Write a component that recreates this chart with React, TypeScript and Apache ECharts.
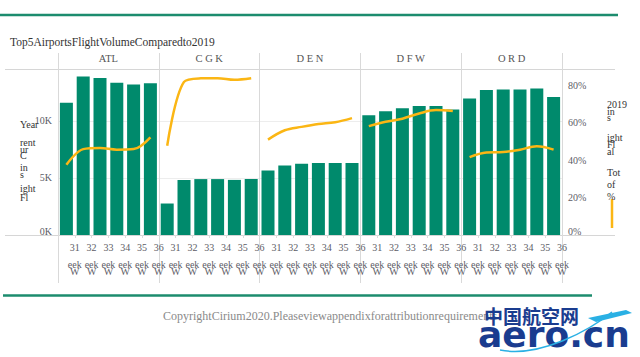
import React, { useEffect, useRef } from "react";
import * as echarts from "echarts";

const airports = ["ATL", "CGK", "DEN", "DFW", "ORD"];
const airportLabels = ["ATL", "C G K", "D E N", "D F W", "O R D"];
const weeks = ["31", "32", "33", "34", "35", "36"];

const atlFlights = [11600, 13900, 13760, 13350, 13200, 13300];
const cgkFlights = [2760, 4820, 4900, 4900, 4830, 4900];
const denFlights = [5650, 6090, 6240, 6300, 6300, 6300];
const dfwFlights = [10490, 10840, 11100, 11300, 11300, 10990];
const ordFlights = [11960, 12700, 12760, 12760, 12850, 12100];

const atlShare = [37.6, 46.0, 46.6, 45.7, 46.0, 52.3];
const cgkShare = [47.8, 82.0, 83.9, 84.0, 83.1, 83.9];
const denShare = [51.1, 56.1, 57.9, 59.4, 60.4, 62.6];
const dfwShare = [58.3, 60.6, 62.3, 65.1, 66.9, 66.4];
const ordShare = [41.7, 44.2, 44.4, 45.7, 47.5, 45.7];

const leftTicks = ["0K", "5K", "10K"];
const rightTicks = ["0%", "20%", "40%", "60%", "80%"];

const titleText = "Top5AirportsFlightVolumeComparedto2019";
const footerText = "CopyrightCirium2020.Pleaseviewappendixforattributionrequirements";
const leftTitleParts = [
  ["Year", 124],
  ["rent", 142],
  ["ur", 149],
  ["C", 155],
  ["in", 167],
  ["s", 174],
  ["ight", 188],
  ["Fl", 197],
];
const rightTitleParts = [
  ["2019", 104],
  ["in", 111],
  ["s", 117],
  ["ight", 137],
  ["Fl", 144],
  ["al", 151],
  ["Tot", 172],
  ["of", 184],
  ["%", 196],
];

const SERIF = "'Liberation Serif', 'DejaVu Serif', serif";
const GREEN = "#008a6c";
const GOLD = "#fbb614";
const RULE = "#1c8c6e";

export default function App() {
  const ref = useRef<HTMLDivElement>(null);

  useEffect(() => {
    if (!ref.current) return;
    const chart = echarts.init(ref.current, undefined, { renderer: "svg" });

    const flightsByAirport = [atlFlights, cgkFlights, denFlights, dfwFlights, ordFlights];
    const shareByAirport = [atlShare, cgkShare, denShare, dfwShare, ordShare];
    const categories: string[] = [];
    airports.forEach((a) => weeks.forEach((w) => categories.push(a + "-" + w)));
    const barData: number[] = [];
    flightsByAirport.forEach((arr) => arr.forEach((v) => barData.push(v)));

    const boundaryCats: string[] = [""];
    airports.forEach(() => weeks.forEach((w) => boundaryCats.push(w)));

    const lineSeries = airports.map((a, ai) => {
      const data: (number | string)[] = categories.map(() => "-");
      shareByAirport[ai].forEach((v, wi) => {
        data[ai * weeks.length + wi] = v;
      });
      return {
        name: a + " share",
        type: "line",
        xAxisIndex: 0,
        yAxisIndex: 1,
        data,
        smooth: 0.35,
        symbol: "none",
        connectNulls: false,
        lineStyle: { color: GOLD, width: 2.5 },
        itemStyle: { color: GOLD },
        z: 5,
      };
    });

    const labelStyle = { fontFamily: SERIF, fontSize: 10, color: "#5c5c66" };

    const graphics: any[] = [
      { type: "line", shape: { x1: 0, y1: 15, x2: 618, y2: 15 }, style: { stroke: RULE, lineWidth: 2.5 } },
      { type: "line", shape: { x1: 3, y1: 295.5, x2: 592, y2: 295.5 }, style: { stroke: RULE, lineWidth: 2.5 } },
      {
        type: "text",
        x: 10,
        y: 42,
        style: { text: titleText, font: "11.5px " + SERIF, fill: "#333", textVerticalAlign: "middle" },
      },
      {
        type: "text",
        x: 163,
        y: 316,
        style: { text: footerText, font: "12px " + SERIF, fill: "#8a8a8a", textVerticalAlign: "middle" },
      },
      {
        type: "line",
        shape: { x1: 612, y1: 199, x2: 612, y2: 228 },
        style: { stroke: GOLD, lineWidth: 2.5 },
      },
      {
        type: "text",
        x: 484,
        y: 315,
        z: 20,
        style: {
          text: "中国航空网",
          font: "bold 19px 'Noto Sans CJK SC', sans-serif",
          fill: "#1a3c8f",
          textVerticalAlign: "middle",
        },
      },
      {
        type: "text",
        x: 478,
        y: 334,
        z: 20,
        style: {
          text: "aero.cn",
          font: "bold 36px 'DejaVu Sans', sans-serif",
          fill: "#1a3c8f",
          textVerticalAlign: "middle",
        },
      },
      {
        type: "bezierCurve",
        z: 21,
        shape: { x1: 500, y1: 350, x2: 612, y2: 312, cpx1: 540, cpy1: 358, cpx2: 590, cpy2: 330 },
        style: { stroke: "#2ab0e4", lineWidth: 1.5, fill: "none" },
      },
      {
        type: "polygon",
        z: 21,
        shape: { points: [[588, 318], [626, 310], [632, 313], [596, 322]] },
        style: { fill: "#2ab0e4" },
      },
    ];
    leftTitleParts.forEach(([t, y]) => {
      graphics.push({
        type: "text",
        x: 20,
        y: y as number,
        z: 10,
        style: { text: t as string, font: "10px " + SERIF, fill: "#333", textVerticalAlign: "middle" },
      });
    });
    rightTitleParts.forEach(([t, y]) => {
      graphics.push({
        type: "text",
        x: 607,
        y: y as number,
        style: { text: t as string, font: "10px " + SERIF, fill: "#333", textVerticalAlign: "middle" },
      });
    });

    chart.setOption({
      animation: false,
      grid: [
        { left: 58, right: 78, top: 69, height: 166 },
        { left: 58, right: 78, top: 53, height: 230 },
        { left: 5, right: 25, top: 69, height: 166 },
      ],
      xAxis: [
        {
          type: "category",
          gridIndex: 0,
          data: categories,
          show: false,
        },
        {
          type: "category",
          gridIndex: 0,
          position: "bottom",
          boundaryGap: false,
          data: boundaryCats,
          axisLine: { show: false },
          axisTick: { show: true, length: 3, interval: 0, lineStyle: { color: "#dcdcdc" } },
          axisLabel: { ...labelStyle, interval: 0, margin: 7, hideOverlap: false },
        },
        {
          type: "category",
          gridIndex: 0,
          position: "bottom",
          boundaryGap: false,
          data: boundaryCats,
          axisLine: { show: false },
          axisTick: { show: false },
          axisLabel: {
            ...labelStyle,
            interval: 0,
            margin: 26,
            lineHeight: 7,
            hideOverlap: false,
            formatter: (v: string) => (v ? "eek\nW" : ""),
          },
        },
        {
          type: "category",
          gridIndex: 0,
          position: "top",
          data: airportLabels,
          axisLine: { show: false },
          axisTick: { show: false },
          axisLabel: { fontFamily: SERIF, fontSize: 10.5, color: "#555", margin: 5, interval: 0 },
        },
        {
          type: "category",
          gridIndex: 1,
          data: airports,
          axisLine: { show: false },
          axisTick: { show: false },
          axisLabel: { show: false },
          splitLine: { show: true, interval: 0, lineStyle: { color: "#d9d9d9", width: 1 } },
        },
        { type: "value", gridIndex: 2, show: false },
      ],
      yAxis: [
        {
          type: "value",
          gridIndex: 0,
          position: "left",
          min: 0,
          max: 14550,
          interval: 5000,
          axisLine: { show: false },
          axisTick: { show: false },
          splitLine: { show: true, lineStyle: { color: "#ededed" } },
          axisLabel: {
            ...labelStyle,
            margin: 6,
            showMaxLabel: false,
            formatter: (v: number) => {
              const t = leftTicks[Math.round(v / 5000)] || "";
              return v === 0 ? "{z|" + t + "}" : t;
            },
            rich: { z: { ...labelStyle, padding: [0, 0, 8, 0] } },
          },
        },
        {
          type: "value",
          gridIndex: 0,
          position: "right",
          min: 0,
          max: 88.9,
          interval: 20,
          axisLine: { show: false },
          axisTick: { show: false },
          splitLine: { show: false },
          axisLabel: {
            ...labelStyle,
            margin: 6,
            showMaxLabel: false,
            formatter: (v: number) => {
              const t = rightTicks[Math.round(v / 20)] || "";
              return v === 0 ? "{z|" + t + "}" : t;
            },
            rich: { z: { ...labelStyle, padding: [0, 0, 8, 0] } },
          },
        },
        { type: "value", gridIndex: 1, show: false },
        {
          type: "value",
          gridIndex: 2,
          min: 0,
          max: 1,
          interval: 1,
          axisLine: { show: false },
          axisTick: { show: false },
          axisLabel: { show: false },
          splitLine: { show: true, lineStyle: { color: "#d6d6d6", width: 1 } },
        },
      ],
      series: [
        {
          name: "Flights",
          type: "bar",
          xAxisIndex: 0,
          yAxisIndex: 0,
          data: barData,
          barWidth: 13,
          itemStyle: { color: GREEN },
          z: 3,
        },
        ...lineSeries,
      ],
      graphic: graphics,
    });

    return () => chart.dispose();
  }, []);

  return (
    <div
      ref={ref}
      style={{ position: "fixed", left: 0, top: 0, width: 640, height: 357, background: "#fff" }}
    />
  );
}
